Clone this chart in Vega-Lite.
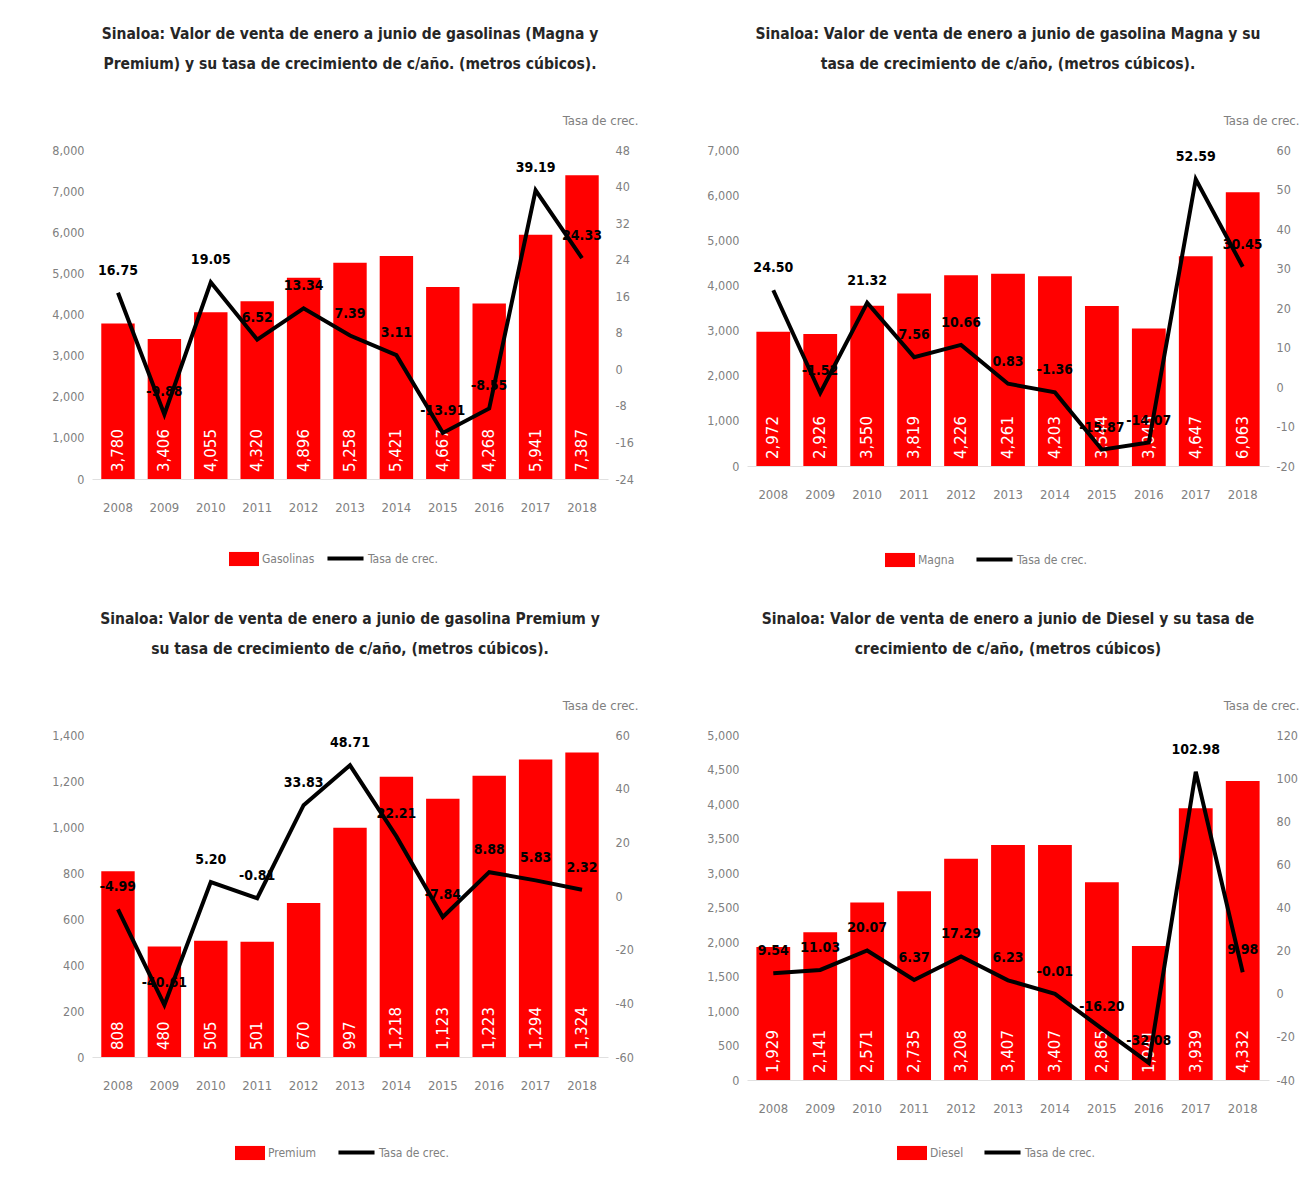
{
  "$schema": "https://vega.github.io/schema/vega-lite/v6.json",
  "background": "white",
  "padding": {"left": 51, "top": 26, "right": 2, "bottom": 2},
  "columns": 2,
  "spacing": {"row": 43, "column": 68},
  "datasets": {
    "gas": [
      {"year": "2008", "value": 3780, "rate": 16.75},
      {"year": "2009", "value": 3406, "rate": -9.88},
      {"year": "2010", "value": 4055, "rate": 19.05},
      {"year": "2011", "value": 4320, "rate": 6.52},
      {"year": "2012", "value": 4896, "rate": 13.34},
      {"year": "2013", "value": 5258, "rate": 7.39},
      {"year": "2014", "value": 5421, "rate": 3.11},
      {"year": "2015", "value": 4667, "rate": -13.91},
      {"year": "2016", "value": 4268, "rate": -8.55},
      {"year": "2017", "value": 5941, "rate": 39.19},
      {"year": "2018", "value": 7387, "rate": 24.33}
    ],
    "magna": [
      {"year": "2008", "value": 2972, "rate": 24.50},
      {"year": "2009", "value": 2926, "rate": -1.52},
      {"year": "2010", "value": 3550, "rate": 21.32},
      {"year": "2011", "value": 3819, "rate": 7.56},
      {"year": "2012", "value": 4226, "rate": 10.66},
      {"year": "2013", "value": 4261, "rate": 0.83},
      {"year": "2014", "value": 4203, "rate": -1.36},
      {"year": "2015", "value": 3544, "rate": -15.87},
      {"year": "2016", "value": 3046, "rate": -14.07},
      {"year": "2017", "value": 4647, "rate": 52.59},
      {"year": "2018", "value": 6063, "rate": 30.45}
    ],
    "premium": [
      {"year": "2008", "value": 808, "rate": -4.99},
      {"year": "2009", "value": 480, "rate": -40.61},
      {"year": "2010", "value": 505, "rate": 5.20},
      {"year": "2011", "value": 501, "rate": -0.81},
      {"year": "2012", "value": 670, "rate": 33.83},
      {"year": "2013", "value": 997, "rate": 48.71},
      {"year": "2014", "value": 1218, "rate": 22.21},
      {"year": "2015", "value": 1123, "rate": -7.84},
      {"year": "2016", "value": 1223, "rate": 8.88},
      {"year": "2017", "value": 1294, "rate": 5.83},
      {"year": "2018", "value": 1324, "rate": 2.32}
    ],
    "diesel": [
      {"year": "2008", "value": 1929, "rate": 9.54},
      {"year": "2009", "value": 2141, "rate": 11.03},
      {"year": "2010", "value": 2571, "rate": 20.07},
      {"year": "2011", "value": 2735, "rate": 6.37},
      {"year": "2012", "value": 3208, "rate": 17.29},
      {"year": "2013", "value": 3407, "rate": 6.23},
      {"year": "2014", "value": 3407, "rate": -0.01},
      {"year": "2015", "value": 2865, "rate": -16.20},
      {"year": "2016", "value": 1941, "rate": -32.08},
      {"year": "2017", "value": 3939, "rate": 102.98},
      {"year": "2018", "value": 4332, "rate": 9.98}
    ]
  },
  "concat": [
    {
      "width": 516, "height": 329,
      "title": {"text": ["Sinaloa: Valor de venta de enero a junio de gasolinas  (Magna y", "Premium) y su tasa de crecimiento  de c/año. (metros cúbicos)."]},
      "data": {"name": "gas"},
      "encoding": {"x": {"field": "year", "type": "ordinal", "title": null, "scale": {"paddingInner": 0.28, "paddingOuter": 0.2}}},
      "layer": [
        {"layer": [
          {"mark": {"type": "bar"},
           "encoding": {
             "y": {"field": "value", "type": "quantitative", "title": null, "scale": {"domain": [0, 8000], "nice": false}, "axis": {"values": [0, 1000, 2000, 3000, 4000, 5000, 6000, 7000, 8000], "tickCount": 20, "format": ",.0f", "labelOverlap": false}},
             "fill": {"datum": "Gasolinas", "type": "nominal", "scale": {"range": ["#ff0000"]}, "legend": {"orient": "none", "legendX": 136, "legendY": 393, "symbolType": "M-1,-0.47H1V0.47H-1Z", "symbolSize": 900}}}},
          {"mark": {"type": "text", "angle": 270, "align": "left", "baseline": "middle", "dx": 7, "color": "white", "fontSize": 15, "font": "DejaVu Sans"},
           "encoding": {"y": {"datum": 0, "type": "quantitative"}, "text": {"field": "value", "type": "quantitative", "format": ",.0f"}}}
        ]},
        {"layer": [
          {"mark": {"type": "line", "strokeWidth": 4},
           "encoding": {
             "y": {"field": "rate", "type": "quantitative", "title": "Tasa de crec.", "scale": {"domain": [-24, 48], "nice": false}, "axis": {"orient": "right", "values": [-24, -16, -8, 0, 8, 16, 24, 32, 40, 48], "tickCount": 20, "format": ".0f", "labelOverlap": false}},
             "stroke": {"datum": "Tasa de crec.", "type": "nominal", "scale": {"range": ["#000000"]}, "legend": {"orient": "none", "legendX": 233, "legendY": 388, "symbolType": "stroke", "symbolSize": 1300, "symbolStrokeWidth": 4}}}},
          {"mark": {"type": "text", "baseline": "bottom", "dy": -15, "fontWeight": "bold", "fontSize": 14, "color": "black"},
           "encoding": {"y": {"field": "rate", "type": "quantitative"}, "text": {"field": "rate", "type": "quantitative", "format": ".2f"}}}
        ]}
      ],
      "resolve": {"scale": {"y": "independent"}, "axis": {"y": "independent"}}
    },
    {
      "width": 522, "height": 316,
      "title": {"text": ["Sinaloa: Valor de venta de enero a junio de gasolina  Magna y su", "tasa de crecimiento  de c/año, (metros cúbicos)."]},
      "data": {"name": "magna"},
      "encoding": {"x": {"field": "year", "type": "ordinal", "title": null, "scale": {"paddingInner": 0.28, "paddingOuter": 0.2}}},
      "layer": [
        {"layer": [
          {"mark": {"type": "bar"},
           "encoding": {
             "y": {"field": "value", "type": "quantitative", "title": null, "scale": {"domain": [0, 7000], "nice": false}, "axis": {"values": [0, 1000, 2000, 3000, 4000, 5000, 6000, 7000], "tickCount": 20, "format": ",.0f", "labelOverlap": false}},
             "fill": {"datum": "Magna", "type": "nominal", "scale": {"range": ["#ff0000"]}, "legend": {"orient": "none", "legendX": 137, "legendY": 394, "symbolType": "M-1,-0.47H1V0.47H-1Z", "symbolSize": 900}}}},
          {"mark": {"type": "text", "angle": 270, "align": "left", "baseline": "middle", "dx": 7, "color": "white", "fontSize": 15, "font": "DejaVu Sans"},
           "encoding": {"y": {"datum": 0, "type": "quantitative"}, "text": {"field": "value", "type": "quantitative", "format": ",.0f"}}}
        ]},
        {"layer": [
          {"mark": {"type": "line", "strokeWidth": 4},
           "encoding": {
             "y": {"field": "rate", "type": "quantitative", "title": "Tasa de crec.", "scale": {"domain": [-20, 60], "nice": false}, "axis": {"orient": "right", "values": [-20, -10, 0, 10, 20, 30, 40, 50, 60], "tickCount": 20, "format": ".0f", "labelOverlap": false}},
             "stroke": {"datum": "Tasa de crec.", "type": "nominal", "scale": {"range": ["#000000"]}, "legend": {"orient": "none", "legendX": 227, "legendY": 389, "symbolType": "stroke", "symbolSize": 1300, "symbolStrokeWidth": 4}}}},
          {"mark": {"type": "text", "baseline": "bottom", "dy": -15, "fontWeight": "bold", "fontSize": 14, "color": "black"},
           "encoding": {"y": {"field": "rate", "type": "quantitative"}, "text": {"field": "rate", "type": "quantitative", "format": ".2f"}}}
        ]}
      ],
      "resolve": {"scale": {"y": "independent"}, "axis": {"y": "independent"}}
    },
    {
      "width": 516, "height": 322,
      "title": {"text": ["Sinaloa: Valor de venta de enero a junio de gasolina  Premium y", "su tasa de crecimiento  de c/año, (metros cúbicos)."]},
      "data": {"name": "premium"},
      "encoding": {"x": {"field": "year", "type": "ordinal", "title": null, "scale": {"paddingInner": 0.28, "paddingOuter": 0.2}}},
      "layer": [
        {"layer": [
          {"mark": {"type": "bar"},
           "encoding": {
             "y": {"field": "value", "type": "quantitative", "title": null, "scale": {"domain": [0, 1400], "nice": false}, "axis": {"values": [0, 200, 400, 600, 800, 1000, 1200, 1400], "tickCount": 20, "format": ",.0f", "labelOverlap": false}},
             "fill": {"datum": "Premium", "type": "nominal", "scale": {"range": ["#ff0000"]}, "legend": {"orient": "none", "legendX": 142, "legendY": 402, "symbolType": "M-1,-0.47H1V0.47H-1Z", "symbolSize": 900}}}},
          {"mark": {"type": "text", "angle": 270, "align": "left", "baseline": "middle", "dx": 7, "color": "white", "fontSize": 15, "font": "DejaVu Sans"},
           "encoding": {"y": {"datum": 0, "type": "quantitative"}, "text": {"field": "value", "type": "quantitative", "format": ",.0f"}}}
        ]},
        {"layer": [
          {"mark": {"type": "line", "strokeWidth": 4},
           "encoding": {
             "y": {"field": "rate", "type": "quantitative", "title": "Tasa de crec.", "scale": {"domain": [-60, 60], "nice": false}, "axis": {"orient": "right", "values": [-60, -40, -20, 0, 20, 40, 60], "tickCount": 20, "format": ".0f", "labelOverlap": false}},
             "stroke": {"datum": "Tasa de crec.", "type": "nominal", "scale": {"range": ["#000000"]}, "legend": {"orient": "none", "legendX": 244, "legendY": 397, "symbolType": "stroke", "symbolSize": 1300, "symbolStrokeWidth": 4}}}},
          {"mark": {"type": "text", "baseline": "bottom", "dy": -15, "fontWeight": "bold", "fontSize": 14, "color": "black"},
           "encoding": {"y": {"field": "rate", "type": "quantitative"}, "text": {"field": "rate", "type": "quantitative", "format": ".2f"}}}
        ]}
      ],
      "resolve": {"scale": {"y": "independent"}, "axis": {"y": "independent"}}
    },
    {
      "width": 522, "height": 345,
      "title": {"text": ["Sinaloa: Valor de venta de enero a junio de Diesel y su tasa de", "crecimiento  de c/año, (metros cúbicos)"]},
      "data": {"name": "diesel"},
      "encoding": {"x": {"field": "year", "type": "ordinal", "title": null, "scale": {"paddingInner": 0.28, "paddingOuter": 0.2}}},
      "layer": [
        {"layer": [
          {"mark": {"type": "bar"},
           "encoding": {
             "y": {"field": "value", "type": "quantitative", "title": null, "scale": {"domain": [0, 5000], "nice": false}, "axis": {"values": [0, 500, 1000, 1500, 2000, 2500, 3000, 3500, 4000, 4500, 5000], "tickCount": 20, "format": ",.0f", "labelOverlap": false}},
             "fill": {"datum": "Diesel", "type": "nominal", "scale": {"range": ["#ff0000"]}, "legend": {"orient": "none", "legendX": 149, "legendY": 402, "symbolType": "M-1,-0.47H1V0.47H-1Z", "symbolSize": 900}}}},
          {"mark": {"type": "text", "angle": 270, "align": "left", "baseline": "middle", "dx": 7, "color": "white", "fontSize": 15, "font": "DejaVu Sans"},
           "encoding": {"y": {"datum": 0, "type": "quantitative"}, "text": {"field": "value", "type": "quantitative", "format": ",.0f"}}}
        ]},
        {"layer": [
          {"mark": {"type": "line", "strokeWidth": 4},
           "encoding": {
             "y": {"field": "rate", "type": "quantitative", "title": "Tasa de crec.", "scale": {"domain": [-40, 120], "nice": false}, "axis": {"orient": "right", "values": [-40, -20, 0, 20, 40, 60, 80, 100, 120], "tickCount": 20, "format": ".0f", "labelOverlap": false}},
             "stroke": {"datum": "Tasa de crec.", "type": "nominal", "scale": {"range": ["#000000"]}, "legend": {"orient": "none", "legendX": 235, "legendY": 397, "symbolType": "stroke", "symbolSize": 1300, "symbolStrokeWidth": 4}}}},
          {"mark": {"type": "text", "baseline": "bottom", "dy": -15, "fontWeight": "bold", "fontSize": 14, "color": "black"},
           "encoding": {"y": {"field": "rate", "type": "quantitative"}, "text": {"field": "rate", "type": "quantitative", "format": ".2f"}}}
        ]}
      ],
      "resolve": {"scale": {"y": "independent"}, "axis": {"y": "independent"}}
    }
  ],
  "resolve": {"scale": {"fill": "independent", "stroke": "independent", "y": "independent", "x": "independent"}, "legend": {"fill": "independent", "stroke": "independent"}},
  "config": {
    "locale": {"number": {"decimal": ".", "thousands": ",", "grouping": [3], "currency": ["$", ""], "minus": "-"}},
    "font": "DejaVu Sans Condensed, sans-serif",
    "view": {"stroke": null},
    "title": {"fontSize": 15.5, "fontWeight": "bold", "color": "#262626", "lineHeight": 30, "anchor": "middle", "offset": 42},
    "axis": {"grid": false, "ticks": false, "domain": false, "labelOverlap": false, "labelColor": "#808080", "labelFontSize": 12.5, "labelPadding": 8, "titleColor": "#808080", "titleFontSize": 13, "titleFontWeight": "normal"},
    "axisX": {"domain": true, "domainColor": "#e0e0e0", "labelAngle": 0, "labelFontSize": 13, "labelPadding": 22},
    "axisRight": {"titleAngle": 0, "titleAlign": "right", "titleBaseline": "middle", "titleX": 30, "titleY": -30, "labelPadding": 7},
    "legend": {"title": null, "labelColor": "#808080", "labelFontSize": 12, "labelOffset": 2, "padding": 0},
    "text": {"font": "DejaVu Sans Condensed, sans-serif"}
  }
}
